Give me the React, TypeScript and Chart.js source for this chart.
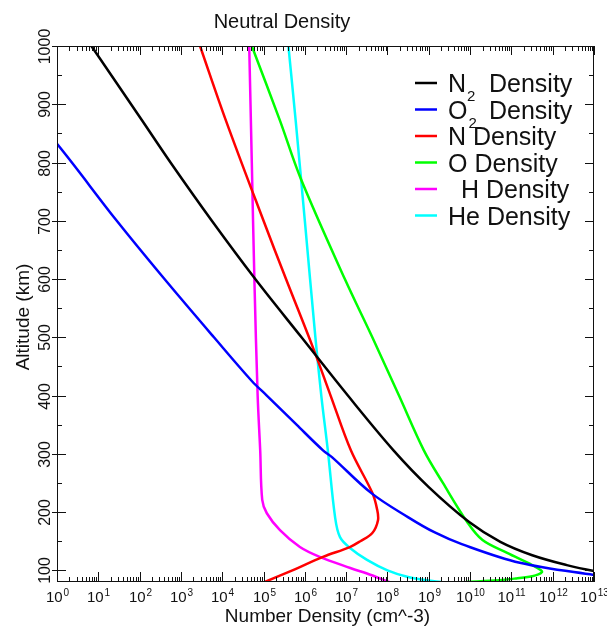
import React, { useEffect, useRef } from "react";
import { Chart, registerables } from "chart.js";

Chart.register(...registerables);

// ---------- text ----------
const TITLE = "Neutral Density";
const X_TITLE = "Number Density (cm^-3)";
const Y_TITLE = "Altitude (km)";

// ---------- tick labels ----------
const xExponents = [0, 1, 2, 3, 4, 5, 6, 7, 8, 9, 10, 11, 12, 13];
const xMinorMultipliers = [2, 3, 4, 5, 6, 7, 8, 9];
const yMajorTicks = [100, 200, 300, 400, 500, 600, 700, 800, 900, 1000];
const yMinorTicks = [150, 250, 350, 450, 550, 650, 750, 850, 950];

// ---------- series (altitude km, number density cm^-3) ----------
const n2Alt = [1000, 872, 800, 700, 600, 500, 400, 306, 243, 183, 149, 126, 109, 99, 90];
const n2Dens = [6.8, 115, 560, 5.6e3, 6.3e4, 8.3e5, 1.1e7, 1.4e8, 1.0e9, 9.5e9, 5.4e10, 3.2e11, 2.2e12, 1.0e13, 6.3e13];

const o2Alt = [900, 832, 700, 600, 500, 425, 400, 350, 306, 294, 233, 191, 165, 145, 113, 92, 85];
const o2Dens = [0.14, 1, 28, 400, 6.3e3, 5.2e4, 1.2e5, 6.3e5, 2.75e6, 4.6e6, 4.0e7, 3.2e8, 1.4e9, 6.3e9, 1.6e11, 1.0e13, 6.3e13];

const nAlt = [1000, 872, 700, 600, 481, 400, 306, 233, 205, 186, 164, 150, 140, 123, 100, 80];
const nDens = [2.9e3, 1.23e4, 1.0e5, 3.5e5, 1.6e6, 4.2e6, 1.3e7, 4.3e7, 5.6e7, 5.9e7, 4.3e7, 2.2e7, 1.23e7, 2.75e6, 5.0e5, 1.07e5];

const oAlt = [1000, 872, 773, 600, 500, 400, 306, 250, 183, 152, 130, 109, 100, 97, 93, 90, 86, 83, 80];
const oDens = [5.2e4, 2.5e5, 7.9e5, 9.3e6, 4.3e7, 1.9e8, 7.6e8, 2.2e9, 8.5e9, 2.0e10, 7.9e10, 3.2e11, 5.2e11, 5.5e11, 4.5e11, 3.2e11, 1.26e11, 5.0e10, 7.9e9];

const hAlt = [1000, 800, 600, 400, 306, 221, 198, 169, 140, 123, 104, 92, 80];
const hDens = [4.5e4, 5.2e4, 6.0e4, 7.2e4, 8.3e4, 9.3e4, 1.2e5, 2.5e5, 7.6e5, 2.3e6, 1.26e7, 4.0e7, 1.1e8];

const heAlt = [1000, 872, 700, 500, 400, 306, 191, 157, 138, 118, 100, 89, 83, 80];
const heDens = [4.0e5, 6.0e5, 1.0e6, 1.8e6, 2.5e6, 3.6e6, 5.4e6, 7.1e6, 1.26e7, 3.2e7, 1.0e8, 3.0e8, 8.9e8, 2.0e9];

const seriesColors = ["#000000", "#0000ff", "#ff0000", "#00ff00", "#ff00ff", "#00ffff"];
// legend label pieces: main text, subscript, rest
const legendMain = ["N", "O", "N Density", "O Density", "H Density", "He Density"];
const legendSub = ["2", "2", "", "", "", ""];
const legendRest = ["Density", "Density", "", "", "", ""];

const FONT = "'Liberation Sans', Arial, Helvetica, sans-serif";

function pts(alt: number[], dens: number[]) {
  return alt.map((a, i) => ({ x: dens[i], y: a }));
}

const idlPlugin = {
  id: "idlAxes",
  afterDatasetsDraw(chart: any) {
    const { ctx, chartArea: a, scales } = chart;
    const xs = scales.x;
    const ys = scales.y;
    ctx.save();
    ctx.strokeStyle = "#111";
    ctx.fillStyle = "#111";
    ctx.lineWidth = 1;

    // frame
    ctx.strokeRect(a.left + 0.5, a.top + 0.5, a.right - a.left - 1, a.bottom - a.top - 1);

    const line = (x1: number, y1: number, x2: number, y2: number) => {
      ctx.beginPath();
      ctx.moveTo(x1, y1);
      ctx.lineTo(x2, y2);
      ctx.stroke();
    };
    // x ticks
    xExponents.forEach((e) => {
      const px = Math.round(xs.getPixelForValue(Math.pow(10, e))) + 0.5;
      line(px, a.bottom, px, a.bottom - 10);
      line(px, a.top, px, a.top + 9);
      if (e < xExponents[xExponents.length - 1]) {
        xMinorMultipliers.forEach((k) => {
          const mx = Math.round(xs.getPixelForValue(k * Math.pow(10, e))) + 0.5;
          line(mx, a.bottom, mx, a.bottom - 5);
          line(mx, a.top, mx, a.top + 5);
        });
      }
      // label 10^e
      ctx.font = `15px ${FONT}`;
      const wb = ctx.measureText("10").width;
      ctx.font = `10px ${FONT}`;
      const we = ctx.measureText(String(e)).width;
      const total = wb + we + 1;
      const sx = px - total / 2;
      ctx.textAlign = "left";
      ctx.textBaseline = "alphabetic";
      ctx.font = `15px ${FONT}`;
      ctx.fillText("10", sx, a.bottom + 20);
      ctx.font = `10px ${FONT}`;
      ctx.fillText(String(e), sx + wb + 1, a.bottom + 14);
    });

    // y ticks
    yMajorTicks.forEach((v) => {
      const py = Math.round(ys.getPixelForValue(v)) + 0.5;
      line(a.left - 5, py, a.left + 9, py);
      line(a.right - 9, py, a.right, py);
      ctx.save();
      ctx.translate(a.left - 7, py);
      ctx.rotate(-Math.PI / 2);
      ctx.font = `16px ${FONT}`;
      ctx.textAlign = "center";
      ctx.textBaseline = "alphabetic";
      ctx.fillText(String(v), 0, 0);
      ctx.restore();
    });
    yMinorTicks.forEach((v) => {
      const py = Math.round(ys.getPixelForValue(v)) + 0.5;
      line(a.left, py, a.left + 5, py);
      line(a.right - 5, py, a.right, py);
    });

    // titles
    ctx.textAlign = "center";
    ctx.textBaseline = "alphabetic";
    ctx.font = `20px ${FONT}`;
    ctx.fillText(TITLE, 282, 28);
    ctx.font = `19px ${FONT}`;
    ctx.fillText(X_TITLE, (a.left + a.right) / 2 + 2, 622);
    ctx.save();
    ctx.translate(29, 317);
    ctx.rotate(-Math.PI / 2);
    ctx.font = `19px ${FONT}`;
    ctx.fillText(Y_TITLE, 0, 0);
    ctx.restore();

    // legend
    const rowY0 = 83;
    const rowStep = 26.5;
    legendMain.forEach((m, i) => {
      const y = rowY0 + i * rowStep;
      ctx.strokeStyle = seriesColors[i];
      ctx.lineWidth = 2.5;
      line(415, y, 437, y);
      ctx.fillStyle = "#111";
      ctx.textAlign = "left";
      ctx.font = `25px ${FONT}`;
      const tx = m.startsWith("H ") ? 461 : 448;
      ctx.fillText(m, tx, y + 9);
      if (legendSub[i]) {
        const w = ctx.measureText(m).width;
        ctx.font = `15px ${FONT}`;
        ctx.fillText(legendSub[i], tx + w + 1, y + 18);
        ctx.font = `25px ${FONT}`;
        ctx.fillText(legendRest[i], 489, y + 9);
      }
    });
    ctx.restore();
  },
};

export default function App() {
  const ref = useRef<HTMLCanvasElement | null>(null);
  useEffect(() => {
    if (!ref.current) return;
    const series = [
      [n2Alt, n2Dens],
      [o2Alt, o2Dens],
      [nAlt, nDens],
      [oAlt, oDens],
      [hAlt, hDens],
      [heAlt, heDens],
    ];
    const chart = new Chart(ref.current, {
      type: "scatter",
      data: {
        datasets: series.map(([alt, dens], i) => ({
          label: legendMain[i] + legendSub[i] + (legendRest[i] ? " " + legendRest[i] : ""),
          data: pts(alt as number[], dens as number[]),
          showLine: true,
          borderColor: seriesColors[i],
          backgroundColor: seriesColors[i],
          borderWidth: 2.5,
          pointRadius: 0,
          tension: 0.35,
          fill: false,
        })),
      },
      options: {
        animation: false,
        responsive: false,
        devicePixelRatio: 1,
        layout: { padding: { left: 57, top: 46, right: 13, bottom: 46 } },
        plugins: { legend: { display: false }, title: { display: false }, tooltip: { enabled: false } },
        scales: {
          x: { type: "logarithmic", min: 1, max: 1e13, display: false },
          y: { type: "linear", min: 80, max: 1000, display: false },
        },
      },
      plugins: [idlPlugin],
    });
    return () => chart.destroy();
  }, []);
  return (
    <div style={{ position: "absolute", left: 0, top: 0, width: 607, height: 628, background: "#fff" }}>
      <canvas ref={ref} width={607} height={628} />
    </div>
  );
}
